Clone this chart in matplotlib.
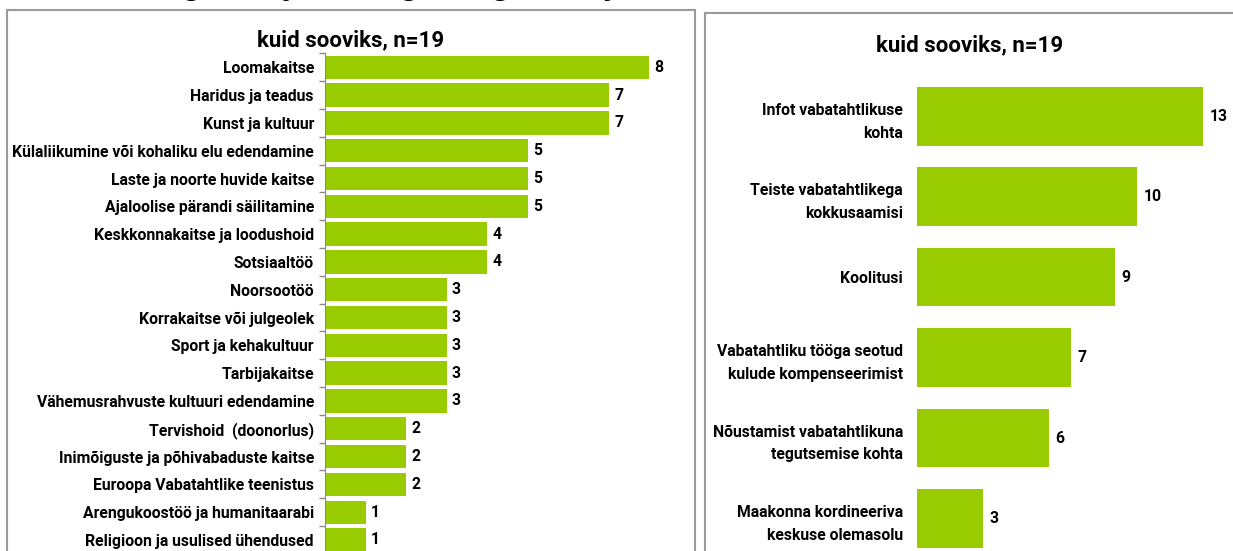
import matplotlib.pyplot as plt
from matplotlib.patches import Rectangle
from matplotlib.ticker import FixedLocator, NullLocator

# left chart: fields where respondents would like to volunteer
left_labels = [
    'Loomakaitse', 'Haridus ja teadus', 'Kunst ja kultuur',
    'Külaliikumine või kohaliku elu edendamine', 'Laste ja noorte huvide kaitse',
    'Ajaloolise pärandi säilitamine', 'Keskkonnakaitse ja loodushoid', 'Sotsiaaltöö',
    'Noorsootöö', 'Korrakaitse või julgeolek', 'Sport ja kehakultuur', 'Tarbijakaitse',
    'Vähemusrahvuste kultuuri edendamine', 'Tervishoid  (doonorlus)',
    'Inimõiguste ja põhivabaduste kaitse', 'Euroopa Vabatahtlike teenistus',
    'Arengukoostöö ja humanitaarabi', 'Religioon ja usulised ühendused',
]
left_values = [8, 7, 7, 5, 5, 5, 4, 4, 3, 3, 3, 3, 3, 2, 2, 2, 1, 1]

# right chart: what respondents would need
right_labels = [
    'Infot vabatahtlikuse\nkohta', 'Teiste vabatahtlikega\nkokkusaamisi', 'Koolitusi',
    'Vabatahtliku tööga seotud\nkulude kompenseerimist',
    'Nõustamist vabatahtlikuna\ntegutsemise kohta',
    'Maakonna kordineeriva\nkeskuse olemasolu',
]
right_values = [13, 10, 9, 7, 6, 3]

title = 'kuid sooviks, n=19'
GREEN = '#99cc00'
FONT = 'Roboto'
LABEL_SIZE = 11.3

W, H = 1233, 551
fig = plt.figure(figsize=(W / 100, H / 100), dpi=100)


def fx(px):
    return px / W


def fy(py):
    return 1 - py / H


# slide heading, cut off at the top edge (only descenders show)
fig.text(fx(8), fy(-5), 'Vabatahtlik tegevuste ja muu tegevus aga kõike ja',
         family='Liberation Serif', fontweight='bold', fontsize=21,
         ha='left', va='baseline')

# chart frames
for x0, y0, w in [(7, 10, 688), (705, 13, 560)]:
    fig.patches.append(Rectangle((fx(x0), fy(H + 20)), fx(w),
                                 fy(y0) - fy(H + 20), transform=fig.transFigure,
                                 fill=False, edgecolor='#9a9a9a', linewidth=1.5))

# === left panel ===
ax1 = fig.add_axes([fx(325), fy(553.9), fx(365), fy(53.4) - fy(553.9)])
y1 = range(len(left_values))
ax1.barh(y1, left_values, height=0.84, color=GREEN)
ax1.set_xlim(0, 9)
ax1.set_ylim(len(left_values) - 0.5, -0.5)
ax1.set_yticks(list(y1))
ax1.set_yticklabels(left_labels, family=FONT, fontweight='bold', fontsize=LABEL_SIZE)
ax1.yaxis.set_minor_locator(FixedLocator([i - 0.5 for i in range(len(left_values) + 1)]))
ax1.tick_params(axis='y', which='major', length=0, pad=8)
ax1.tick_params(axis='y', which='minor', length=4, color='#8a8a8a', width=1)
ax1.xaxis.set_major_locator(NullLocator())
for s in ['top', 'right', 'bottom']:
    ax1.spines[s].set_visible(False)
ax1.spines['left'].set_color('#8a8a8a')
ax1.patch.set_alpha(0)
for i, v in enumerate(left_values):
    ax1.text(v + 0.13, i, str(v), va='center', ha='left',
             family=FONT, fontweight='bold', fontsize=LABEL_SIZE)
fig.text(fx(351), fy(40), title, ha='center', va='center',
         family=FONT, fontweight='bold', fontsize=16)

# === right panel ===
ax2 = fig.add_axes([fx(917), fy(558.7), fx(308), fy(76) - fy(558.7)])
y2 = range(len(right_values))
ax2.barh(y2, right_values, height=0.73, color=GREEN)
ax2.set_xlim(0, 14)
ax2.set_ylim(len(right_values) - 0.5, -0.5)
ax2.set_yticks(list(y2))
ax2.set_yticklabels(right_labels, family=FONT, fontweight='bold', fontsize=LABEL_SIZE,
                    linespacing=1.65, multialignment='right')
ax2.tick_params(axis='y', length=0, pad=10)
ax2.xaxis.set_major_locator(NullLocator())
for s in ax2.spines.values():
    s.set_visible(False)
ax2.patch.set_alpha(0)
for i, v in enumerate(right_values):
    ax2.text(v + 0.3, i, str(v), va='center', ha='left',
             family=FONT, fontweight='bold', fontsize=LABEL_SIZE)
fig.text(fx(970), fy(45), title, ha='center', va='center',
         family=FONT, fontweight='bold', fontsize=16)

fig.savefig('out.png', dpi=100)
